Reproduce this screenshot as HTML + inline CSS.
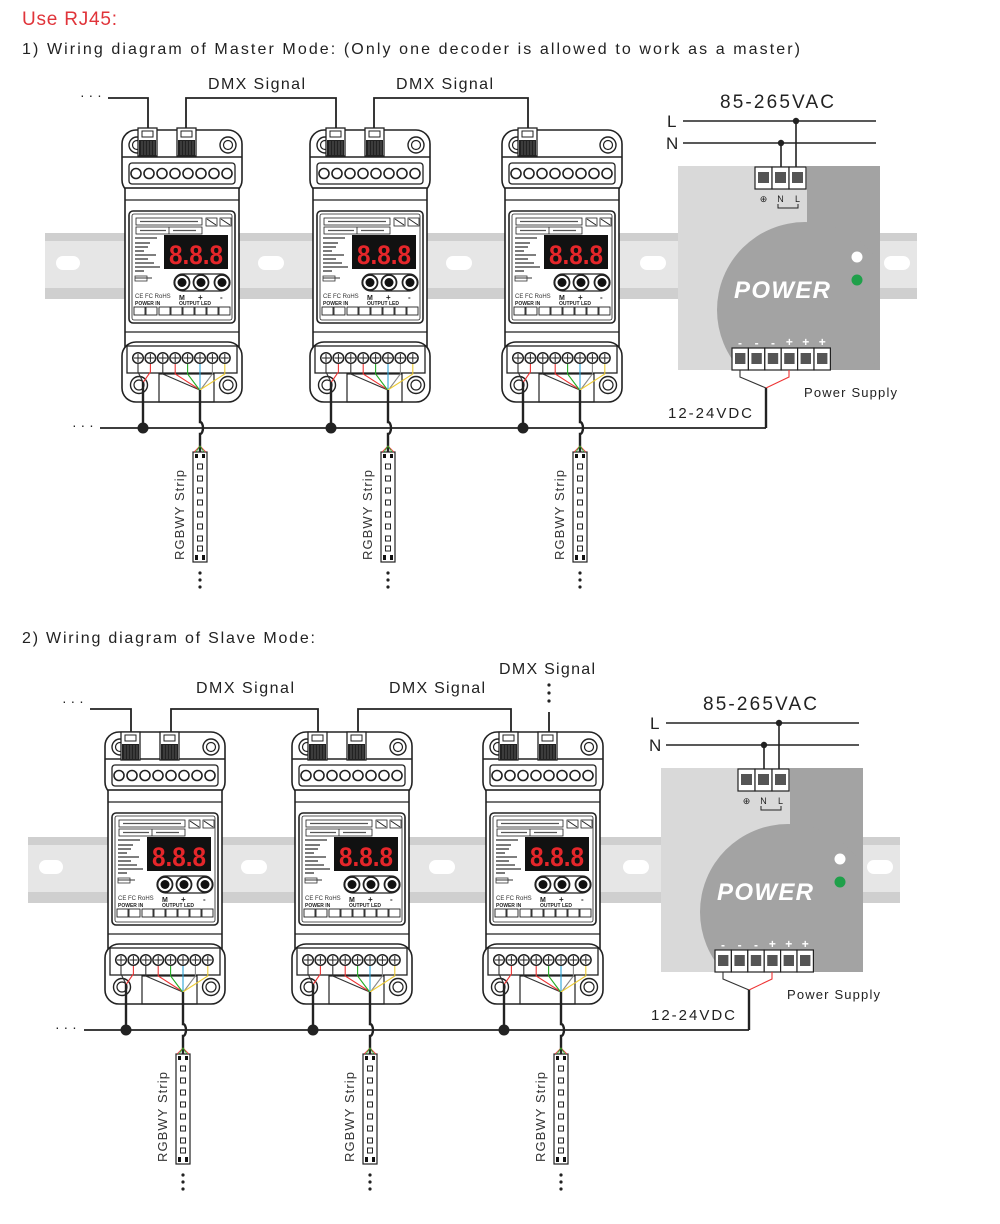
<!DOCTYPE html>
<html><head><meta charset="utf-8"><style>
html,body{margin:0;padding:0;background:#fff;}
svg{display:block;font-family:"Liberation Sans",sans-serif;}
</style></head><body>
<svg width="1000" height="1224" viewBox="0 0 1000 1224" xmlns="http://www.w3.org/2000/svg">
<defs>
<g id="dec">
 <rect x="0" y="2" width="120" height="64" rx="14" fill="#fff" stroke="#222" stroke-width="1.6"/>
 <rect x="3" y="60" width="114" height="160" fill="#fff" stroke="#222" stroke-width="1.6"/>
 <rect x="0" y="214" width="120" height="60" rx="14" fill="#fff" stroke="#222" stroke-width="1.6"/>
 <line x1="0" y1="29" x2="120" y2="29" stroke="#222" stroke-width="1.4"/>
 <line x1="3" y1="72" x2="117" y2="72" stroke="#222" stroke-width="1.2"/>
 <line x1="3" y1="204" x2="117" y2="204" stroke="#222" stroke-width="1.2"/>
 <circle cx="15" cy="17" r="8" fill="#fff" stroke="#222" stroke-width="1.4"/><circle cx="15" cy="17" r="4.5" fill="none" stroke="#222" stroke-width="1.2"/>
 <circle cx="106" cy="17" r="8" fill="#fff" stroke="#222" stroke-width="1.4"/><circle cx="106" cy="17" r="4.5" fill="none" stroke="#222" stroke-width="1.2"/>
 <rect x="7" y="35" width="106" height="21" rx="3" fill="#fff" stroke="#222" stroke-width="1.3"/>
 <g fill="#fff" stroke="#222" stroke-width="1.6">
  <circle cx="14" cy="45.5" r="5"/><circle cx="27" cy="45.5" r="5"/><circle cx="40" cy="45.5" r="5"/><circle cx="53" cy="45.5" r="5"/><circle cx="66" cy="45.5" r="5"/><circle cx="79" cy="45.5" r="5"/><circle cx="92" cy="45.5" r="5"/><circle cx="105" cy="45.5" r="5"/>
 </g>
 <rect x="7" y="83" width="106" height="112" rx="4" fill="#fff" stroke="#222" stroke-width="1.6"/>
 <rect x="10" y="86" width="100" height="106" rx="2" fill="none" stroke="#222" stroke-width="0.8"/>
 <rect x="14" y="90" width="66" height="7" fill="#fff" stroke="#222" stroke-width="0.8"/>
 <rect x="14" y="99" width="66" height="7" fill="#fff" stroke="#222" stroke-width="0.8"/>
 <line x1="47" y1="99" x2="47" y2="106" stroke="#222" stroke-width="0.8"/>
 <g stroke="#555" stroke-width="1.2"><line x1="18" y1="93.5" x2="76" y2="93.5"/><line x1="18" y1="102.5" x2="44" y2="102.5"/><line x1="51" y1="102.5" x2="74" y2="102.5"/></g>
 <rect x="84" y="90" width="11" height="8" fill="#fff" stroke="#222" stroke-width="0.8"/><line x1="85" y1="91" x2="94" y2="97" stroke="#222"/>
 <rect x="98" y="90" width="11" height="8" fill="#fff" stroke="#222" stroke-width="0.8"/><line x1="99" y1="91" x2="108" y2="97" stroke="#222"/>
 <g stroke="#333" stroke-width="1.3">
  <line x1="13" y1="110" x2="35" y2="110"/><line x1="13" y1="115" x2="28" y2="115"/><line x1="13" y1="119" x2="26" y2="119"/><line x1="13" y1="123" x2="22" y2="123"/><line x1="13" y1="127" x2="34" y2="127"/><line x1="13" y1="131" x2="26" y2="131"/><line x1="13" y1="135" x2="32" y2="135"/><line x1="13" y1="139" x2="38" y2="139"/><line x1="13" y1="143" x2="22" y2="143"/>
 </g>
 <rect x="13" y="148" width="12" height="5" fill="#fff" stroke="#333" stroke-width="0.8"/><line x1="13" y1="150" x2="30" y2="150" stroke="#333"/>
 <rect x="42" y="107" width="64" height="34" fill="#111"/>
 <text x="74" y="136" text-anchor="middle" font-size="27" font-weight="bold" fill="#e5262a" textLength="54" lengthAdjust="spacingAndGlyphs">8.8.8</text>
 <rect x="52" y="146" width="56" height="17" rx="8.5" fill="#fff" stroke="#222" stroke-width="1.2"/>
 <g fill="#fff" stroke="#222" stroke-width="1.8"><circle cx="60" cy="154.5" r="7.5"/><circle cx="79" cy="154.5" r="7.5"/><circle cx="100" cy="154.5" r="7.5"/></g>
 <g fill="#111"><circle cx="60" cy="154.5" r="4.5"/><circle cx="79" cy="154.5" r="4.5"/><circle cx="100" cy="154.5" r="4.5"/></g>
 <text x="13" y="170" font-size="6" fill="#333">CE FC RoHS</text>
 <text x="57" y="172" font-size="7" font-weight="bold" fill="#222">M</text><text x="76" y="172" font-size="8" font-weight="bold" fill="#222">+</text><text x="98" y="172" font-size="8" font-weight="bold" fill="#222">-</text>
 <text x="13" y="177" font-size="5" font-weight="bold" fill="#222">POWER IN</text>
 <text x="57" y="177" font-size="5" font-weight="bold" fill="#222">OUTPUT LED</text>
 <g fill="#fff" stroke="#222" stroke-width="0.9">
  <rect x="12" y="179" width="11" height="8"/><rect x="24" y="179" width="11" height="8"/><rect x="37" y="179" width="11" height="8"/><rect x="49" y="179" width="11" height="8"/><rect x="61" y="179" width="11" height="8"/><rect x="73" y="179" width="11" height="8"/><rect x="85" y="179" width="11" height="8"/><rect x="97" y="179" width="11" height="8"/>
 </g>
 <rect x="5" y="218" width="110" height="27" fill="#fff" stroke="#222" stroke-width="1.3"/>
 <g fill="#fff" stroke="#222" stroke-width="1.5">
  <circle cx="16" cy="230" r="5.3"/><circle cx="28.4" cy="230" r="5.3"/><circle cx="40.8" cy="230" r="5.3"/><circle cx="53.2" cy="230" r="5.3"/><circle cx="65.6" cy="230" r="5.3"/><circle cx="78" cy="230" r="5.3"/><circle cx="90.4" cy="230" r="5.3"/><circle cx="102.8" cy="230" r="5.3"/>
 </g>
 <g stroke="#222" stroke-width="1">
  <path d="M12 230h8M16 226v8M24.4 230h8M28.4 226v8M36.8 230h8M40.8 226v8M49.2 230h8M53.2 226v8M61.6 230h8M65.6 226v8M74 230h8M78 226v8M86.4 230h8M90.4 226v8M98.8 230h8M102.8 226v8"/>
 </g>
 <rect x="37" y="246" width="55" height="28" fill="none" stroke="#222" stroke-width="1.2"/>
 <circle cx="17" cy="257" r="8.5" fill="#fff" stroke="#222" stroke-width="1.4"/><circle cx="17" cy="257" r="5" fill="none" stroke="#222" stroke-width="1.2"/>
 <circle cx="106" cy="257" r="8.5" fill="#fff" stroke="#222" stroke-width="1.4"/><circle cx="106" cy="257" r="5" fill="none" stroke="#222" stroke-width="1.2"/>
 <g fill="none" stroke-width="1.1">
  <path d="M16 236v8l5 10" stroke="#333"/>
  <path d="M28.4 236v8l-7 10" stroke="#e33"/>
  <path d="M40.8 236v10l37 16" stroke="#333"/>
  <path d="M53.2 236v10l25 16" stroke="#e33"/>
  <path d="M65.6 236v10l12 16" stroke="#2a2"/>
  <path d="M78 236v26" stroke="#29a3d6"/>
  <path d="M90.4 236v10l-12 16" stroke="#888"/>
  <path d="M102.8 236v10l-25 16" stroke="#ec3"/>
 </g>
 <path d="M21 254v46" stroke="#222" stroke-width="2.4" fill="none"/>
 <path d="M78 262v32a3 6 0 0 1 0 12v18" stroke="#222" stroke-width="2.4" fill="none"/>
 <circle cx="21" cy="300" r="5.5" fill="#222"/>
 <rect x="71" y="324" width="14" height="110" fill="#fff" stroke="#222" stroke-width="1.2"/>
 <path d="M72 324l6-6 6 6" fill="none" stroke="#e33" stroke-width="0.8"/><path d="M74 324l4-6 4 6" fill="none" stroke="#2a2" stroke-width="0.8"/>
 <g fill="#111"><rect x="73" y="326" width="3" height="4"/><rect x="80" y="326" width="3" height="4"/><rect x="73" y="427" width="3" height="5"/><rect x="80" y="427" width="3" height="5"/></g>
 <g fill="#fff" stroke="#222" stroke-width="1">
  <rect x="75.5" y="336" width="5" height="5"/><rect x="75.5" y="348" width="5" height="5"/><rect x="75.5" y="360" width="5" height="5"/><rect x="75.5" y="372" width="5" height="5"/><rect x="75.5" y="384" width="5" height="5"/><rect x="75.5" y="396" width="5" height="5"/><rect x="75.5" y="408" width="5" height="5"/><rect x="75.5" y="418" width="5" height="5"/>
 </g>
 <g fill="#222"><circle cx="78" cy="445" r="1.6"/><circle cx="78" cy="452" r="1.6"/><circle cx="78" cy="459" r="1.6"/></g>
 <text transform="translate(62 387) rotate(-90)" text-anchor="middle" font-size="13" fill="#333" textLength="90">RGBWY Strip</text>
</g>
<g id="rj">
 <rect x="0" y="0" width="19" height="28" fill="#fff" stroke="#222" stroke-width="1.3"/>
 <rect x="4" y="3" width="11" height="6" fill="#fff" stroke="#222" stroke-width="1"/>
 <rect x="1" y="12" width="17" height="16" fill="#222"/>
 <path d="M4 13v14M7 13v14M10 13v14M13 13v14M16 13v14" stroke="#777" stroke-width="0.6"/>
</g>
<clipPath id="psc"><rect x="0" y="0" width="202" height="204"/></clipPath>
<g id="ps">
 <rect x="0" y="0" width="202" height="204" fill="#d9d9d9"/>
 <g clip-path="url(#psc)" fill="#a3a3a3"><rect x="129" y="0" width="80" height="204"/><circle cx="127" cy="144" r="88"/></g>
 <text x="104" y="132" text-anchor="middle" font-size="24" font-weight="bold" font-style="italic" fill="#fff" textLength="96">POWER</text>
 <circle cx="179" cy="91" r="5.5" fill="#fff"/><circle cx="179" cy="114" r="5.5" fill="#1fa04a"/>
 <g fill="#fff" stroke="#222" stroke-width="1.2">
  <rect x="77" y="1" width="17" height="22"/><rect x="94" y="1" width="17" height="22"/><rect x="111" y="1" width="17" height="22"/>
  <rect x="54" y="182" width="16.4" height="22"/><rect x="70.4" y="182" width="16.4" height="22"/><rect x="86.8" y="182" width="16.4" height="22"/><rect x="103.2" y="182" width="16.4" height="22"/><rect x="119.6" y="182" width="16.4" height="22"/><rect x="136" y="182" width="16.4" height="22"/>
 </g>
 <g fill="#555"><rect x="80" y="6" width="11" height="11"/><rect x="97" y="6" width="11" height="11"/><rect x="114" y="6" width="11" height="11"/>
  <rect x="57" y="187" width="10.4" height="11"/><rect x="73.4" y="187" width="10.4" height="11"/><rect x="89.8" y="187" width="10.4" height="11"/><rect x="106.2" y="187" width="10.4" height="11"/><rect x="122.6" y="187" width="10.4" height="11"/><rect x="139" y="187" width="10.4" height="11"/></g>
 <text x="85.5" y="36" text-anchor="middle" font-size="9" fill="#222">⊕</text>
 <text x="102.5" y="36" text-anchor="middle" font-size="9" fill="#222">N</text>
 <text x="119.5" y="36" text-anchor="middle" font-size="9" fill="#222">L</text>
 <path d="M100 38v4h20v-4" fill="none" stroke="#222" stroke-width="1"/>
 <g font-size="12" font-weight="bold" fill="#fff" text-anchor="middle"><text x="62" y="181">-</text><text x="78.6" y="181">-</text><text x="95" y="181">-</text><text x="111.4" y="180">+</text><text x="127.8" y="180">+</text><text x="144.2" y="180">+</text></g>
 <line x1="5" y1="-45" x2="198" y2="-45" stroke="#222" stroke-width="1.6"/>
 <line x1="5" y1="-23" x2="198" y2="-23" stroke="#222" stroke-width="1.6"/>
 <line x1="118" y1="-45" x2="118" y2="1" stroke="#222" stroke-width="1.6"/>
 <line x1="103" y1="-23" x2="103" y2="1" stroke="#222" stroke-width="1.6"/>
 <circle cx="118" cy="-45" r="3.2" fill="#222"/><circle cx="103" cy="-23" r="3.2" fill="#222"/>
 <text x="-11" y="-39" font-size="17" fill="#222">L</text>
 <text x="-12" y="-17" font-size="17" fill="#222">N</text>
 <text x="99" y="-58" text-anchor="middle" font-size="19" fill="#222" textLength="114">85-265VAC</text>
 <path d="M62 204v7l26 11" fill="none" stroke="#333" stroke-width="1.1"/>
 <path d="M111 204v7l-23 11" fill="none" stroke="#e33" stroke-width="1.1"/>
 <path d="M88 222v40" stroke="#222" stroke-width="2.4"/>
 <text x="-10" y="252" font-size="15" fill="#222" textLength="84">12-24VDC</text>
 <text x="126" y="231" font-size="13" fill="#222" textLength="93">Power Supply</text>
</g>
</defs>

<text x="22" y="25" font-size="19" fill="#e0343a" textLength="95">Use RJ45:</text>
<text x="22" y="54" font-size="16" fill="#222" textLength="778">1) Wiring diagram of Master Mode: (Only one decoder is allowed to work as a master)</text>

<rect x="45" y="233" width="872" height="66" fill="#cfcfcf"/>
<rect x="45" y="241" width="872" height="47" fill="#e6e6e6"/>
<g fill="#fff"><rect x="56" y="256" width="24" height="14" rx="7"/><rect x="258" y="256" width="26" height="14" rx="7"/><rect x="446" y="256" width="26" height="14" rx="7"/><rect x="640" y="256" width="26" height="14" rx="7"/><rect x="884" y="256" width="26" height="14" rx="7"/></g>

<text x="208" y="89" font-size="16" fill="#222" textLength="97">DMX Signal</text>
<text x="396" y="89" font-size="16" fill="#222" textLength="97">DMX Signal</text>
<text x="80" y="100" font-size="14" fill="#222">· · ·</text>
<g fill="none" stroke="#222" stroke-width="1.8">
 <path d="M108 98h40v32"/><path d="M186 130v-32h150v32"/><path d="M374 130v-32h154v32"/>
 <line x1="100" y1="428" x2="766" y2="428"/>
</g>
<text x="72" y="430" font-size="14" fill="#222">· · ·</text>
<use href="#dec" x="122" y="128"/><use href="#dec" x="310" y="128"/><use href="#dec" x="502" y="128"/>
<use href="#rj" x="138" y="128"/><use href="#rj" x="177" y="128"/>
<use href="#rj" x="326" y="128"/><use href="#rj" x="365" y="128"/>
<use href="#rj" x="518" y="128"/>
<use href="#ps" x="678" y="166"/>

<text x="22" y="643" font-size="16" fill="#222" textLength="293">2) Wiring diagram of Slave Mode:</text>

<rect x="28" y="837" width="872" height="66" fill="#cfcfcf"/>
<rect x="28" y="845" width="872" height="47" fill="#e6e6e6"/>
<g fill="#fff"><rect x="39" y="860" width="24" height="14" rx="7"/><rect x="241" y="860" width="26" height="14" rx="7"/><rect x="429" y="860" width="26" height="14" rx="7"/><rect x="623" y="860" width="26" height="14" rx="7"/><rect x="867" y="860" width="26" height="14" rx="7"/></g>

<text x="196" y="693" font-size="16" fill="#222" textLength="98">DMX Signal</text>
<text x="389" y="693" font-size="16" fill="#222" textLength="96">DMX Signal</text>
<text x="499" y="674" font-size="16" fill="#222" textLength="96">DMX Signal</text>
<text x="62" y="706" font-size="14" fill="#222">· · ·</text>
<g fill="none" stroke="#222" stroke-width="1.8">
 <path d="M90 709h41v25"/><path d="M171 734v-25h147v25"/><path d="M358 734v-25h153v25"/>
 <path d="M549 734v-22"/>
 <line x1="84" y1="1030" x2="749" y2="1030"/>
</g>
<g fill="#222"><circle cx="549" cy="685" r="1.6"/><circle cx="549" cy="693" r="1.6"/><circle cx="549" cy="701" r="1.6"/></g>
<text x="55" y="1032" font-size="14" fill="#222">· · ·</text>
<use href="#dec" x="105" y="730"/><use href="#dec" x="292" y="730"/><use href="#dec" x="483" y="730"/>
<use href="#rj" x="121" y="732"/><use href="#rj" x="160" y="732"/>
<use href="#rj" x="308" y="732"/><use href="#rj" x="347" y="732"/>
<use href="#rj" x="499" y="732"/><use href="#rj" x="538" y="732"/>
<use href="#ps" x="661" y="768"/>
</svg>
</body></html>
